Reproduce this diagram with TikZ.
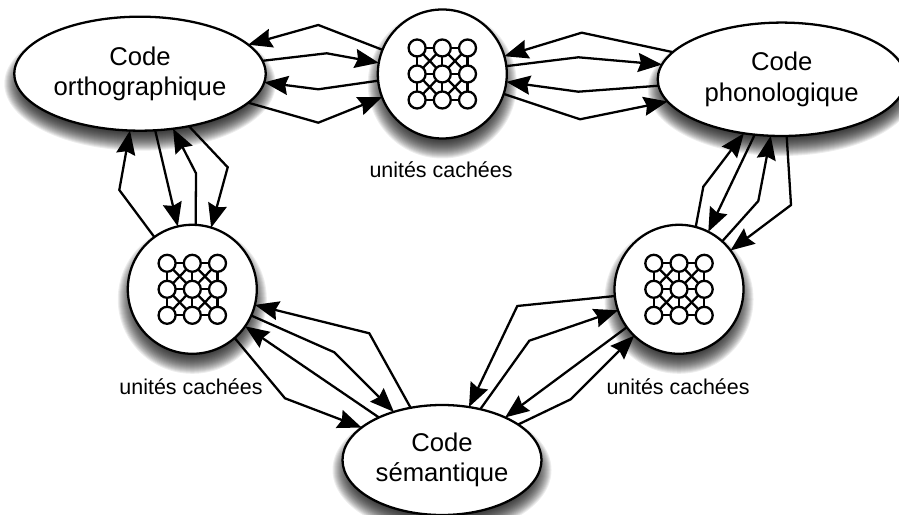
\documentclass[tikz,border=0pt]{standalone}
\usepackage{fontspec}
\setmainfont{Liberation Sans}
\usetikzlibrary{shapes.geometric,arrows.meta,calc,backgrounds}
\tikzset{
	codeell/.style={ellipse,draw,fill=white,line width=0.65pt,inner sep=0pt,outer sep=0pt,align=center,font=\fontsize{7.3}{8.6}\selectfont},
	hiddencirc/.style={circle,draw,fill=white,line width=0.65pt,inner sep=0pt,outer sep=0pt,minimum size=1.29cm},
	unitcirc/.style={circle,draw,fill=white,line width=0.65pt,inner sep=0pt,outer sep=0pt,minimum size=0.17cm},
	hiddenlab/.style={font=\fontsize{6.1}{7}\selectfont},
	conn/.style={line width=0.65pt,-{Stealth[length=6.8pt,width=5.4pt,inset=0.8pt]}},
	softshadow/.style={black,opacity=0.07}
}
\newcommand{\dropshadow}[3]{
	\foreach \k in {0,...,20}{
		\fill[softshadow] ($(#1)+(0,-0.1)$) ellipse ({#2+0.1-\k*0.01} and {#3+0.1-\k*0.01});
	}
}
\begin{document}
\begin{tikzpicture}
	\useasboundingbox (0,0) rectangle (8.99,-5.15);
	% codes
	\node[codeell,minimum width=2.514cm,minimum height=1.14cm] (orth) at (1.40,-0.737){Code\\orthographique};
	\node[codeell,minimum width=2.48cm,minimum height=1.134cm] (phon) at (7.817,-0.793){Code\\phonologique};
	\node[codeell,minimum width=1.99cm,minimum height=1.10cm] (sem) at (4.42,-4.60){Code\\sémantique};
	% hidden layers
	\node[hiddencirc] (htop) at (4.423,-0.74){};
	\node[hiddencirc] (hleft) at (1.923,-2.893){};
	\node[hiddencirc] (hright) at (6.79,-2.893){};
	\node[hiddenlab] (labtop) at (4.41,-1.70){unités cachées};
	\node[hiddenlab] (lableft) at (1.91,-3.87){unités cachées};
	\node[hiddenlab] (labright) at (6.78,-3.87){unités cachées};
	\begin{pgfonlayer}{background}
		\dropshadow{orth}{1.257}{0.57}
		\dropshadow{phon}{1.24}{0.567}
		\dropshadow{sem}{0.995}{0.55}
		\dropshadow{htop}{0.645}{0.645}
		\dropshadow{hleft}{0.645}{0.645}
		\dropshadow{hright}{0.645}{0.645}
	\end{pgfonlayer}
	% small nets
	\foreach \c in {htop,hleft,hright}{
		\foreach \i in {0,1,2}{
			\foreach \j in {0,1,2}{
				\node[unitcirc] (\c-\i-\j) at ($(\c)+(\i*0.252-0.252,0.26-\j*0.26)$){};
			}
		}
		\foreach \i/\k in {0/1,1/2}{
			\foreach \j in {0,1,2}{
				\draw[line width=0.65pt](\c-\i-\j) to (\c-\k-\j);
				\draw[line width=0.65pt](\c-\j-\i) to (\c-\j-\k);
			}
			\foreach \j/\l in {0/1,1/2}{
				\draw[line width=0.65pt](\c-\i-\j) to (\c-\k-\l);
				\draw[line width=0.65pt](\c-\i-\l) to (\c-\k-\j);
			}
		}
	}
	% orth <-> htop
	\draw[conn](htop.158.4) to (3.183,-0.25) to (orth.15.3);
	\draw[conn](orth.6.3) to (3.267,-0.533) to (htop.170.3);
	\draw[conn](htop.186.8) to (3.183,-0.893) to (orth.-4.6);
	\draw[conn](orth.-15.3) to (3.183,-1.227) to (htop.201.6);
	% phon <-> htop
	\draw[conn](phon.166.5) to (5.817,-0.327) to (htop.16.2);
	\draw[conn](htop.7.2) to (5.783,-0.573) to (phon.173.9);
	\draw[conn](phon.183.7) to (5.783,-0.917) to (htop.-7.8);
	\draw[conn](htop.-18.9) to (5.80,-1.193) to (phon.191.2);
	% orth <-> hleft
	\draw[conn](hleft.126.6) to (1.193,-1.90) to (orth.260);
	\draw[conn](orth.-75.9) to (hleft.103.3);
	\draw[conn](hleft.87.8) to (1.96,-1.733) to (orth.-59.6);
	\draw[conn](orth.-47) to (2.277,-1.673) to (hleft.73.6);
	% sem <-> hleft
	\draw[conn](sem.121) to (3.693,-3.333) to (hleft.-14.6);
	\draw[conn](hleft.-24.5) to (3.343,-3.523) to (sem.135.2);
	\draw[conn](sem.146.4) to (hleft.-35.1);
	\draw[conn](hleft.-49.5) to (2.85,-3.983) to (sem.158.9);
	% sem <-> hright
	\draw[conn](hright.186.5) to (5.173,-3.06) to (sem.63);
	\draw[conn](sem.53.7) to (5.293,-3.407) to (hright.199.3);
	\draw[conn](hright.216.5) to (sem.34.8);
	\draw[conn](sem.25) to (5.707,-3.993) to (hright.226.3);
	% phon <-> hright
	\draw[conn](hright.75.7) to (7.033,-1.867) to (phon.235.1);
	\draw[conn](phon.244.5) to (hright.63.2);
	\draw[conn](hright.48.7) to (7.583,-2.01) to (phon.259);
	\draw[conn](phon.275) to (7.91,-2.05) to (hright.37);
\end{tikzpicture}
\end{document}
